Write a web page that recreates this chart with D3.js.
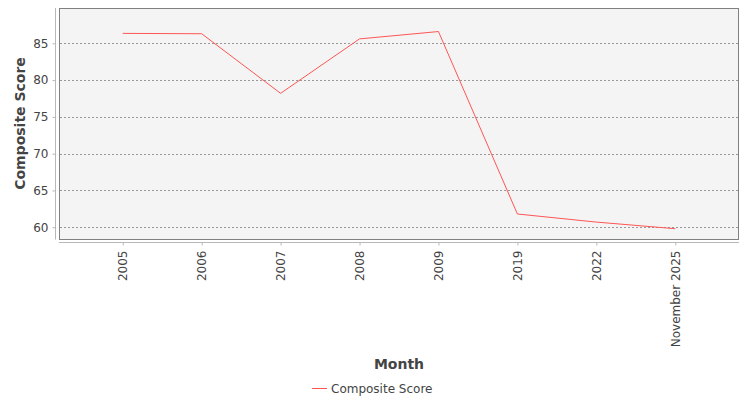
<!DOCTYPE html>
<html>
<head>
<meta charset="utf-8">
<script src="https://cdn.jsdelivr.net/npm/d3@7"></script>
<style>
  body { margin: 0; background: #fff; }
  svg { display: block; font-family: "DejaVu Sans", sans-serif; }
</style>
</head>
<body>
<svg id="chart" width="750" height="400"></svg>
<script>
const categories = ["2005", "2006", "2007", "2008", "2009", "2019", "2022", "November 2025"];
const scores = [86.35, 86.3, 78.2, 85.6, 86.6, 61.8, 60.7, 59.8];
const yTicks = [60, 65, 70, 75, 80, 85];
const seriesName = "Composite Score";
const xTitle = "Month";
const yTitle = "Composite Score";

const svg = d3.select("#chart");
const plot = { left: 59, top: 8, right: 739, bottom: 239 };
const textColor = "#444444";

// JFreeChart-like category positions: 5% lower/upper margin, 20% category gap
const W = plot.right - plot.left;
const n = categories.length;
const lowerM = 0.05 * W, catGap = 0.2 * W / (n - 1), catW = 0.7 * W / n;
const x = d3.scalePoint().domain(categories)
  .range([plot.left + lowerM + catW / 2, plot.right - lowerM - catW / 2]);
const y = d3.scaleLinear().domain([58.4, 89.8]).range([plot.bottom, plot.top]);

// plot background
svg.append("rect")
  .attr("x", plot.left + 0.5).attr("y", plot.top + 0.5)
  .attr("width", W - 1).attr("height", plot.bottom - plot.top)
  .attr("fill", "#f4f4f4");

// gridlines
svg.append("g").selectAll("line").data(yTicks).join("line")
  .attr("x1", plot.left + 1).attr("x2", plot.right)
  .attr("y1", d => Math.round(y(d)) + 0.5).attr("y2", d => Math.round(y(d)) + 0.5)
  .attr("stroke", "#5a5a5a").attr("stroke-width", 0.6)
  .attr("stroke-dasharray", "2,2");

// plot border
svg.append("rect")
  .attr("x", plot.left + 0.5).attr("y", plot.top + 0.5)
  .attr("width", W - 1).attr("height", plot.bottom - plot.top)
  .attr("fill", "none").attr("stroke", "#808080").attr("stroke-width", 1);

// Y axis
const yAxis = d3.axisLeft(y).tickValues(yTicks).tickSize(3).tickPadding(4).tickFormat(d3.format("d"));
const gy = svg.append("g").attr("transform", "translate(55.5,0)").call(yAxis);
gy.select(".domain").attr("d", `M0,${plot.top}V${plot.bottom + 0.5}`).attr("stroke", "#b8b8b8");
gy.selectAll(".tick line").attr("stroke", "#b8b8b8");
gy.selectAll(".tick text").attr("fill", textColor).attr("font-size", 12)
  .attr("font-family", "DejaVu Sans, sans-serif");

// X axis
const xAxis = d3.axisBottom(x).tickSize(3).tickPadding(4);
const gx = svg.append("g").attr("transform", "translate(0,242.5)").call(xAxis);
gx.select(".domain").attr("d", `M${plot.left},0H${plot.right}`).attr("stroke", "#b8b8b8");
gx.selectAll(".tick line").attr("stroke", "#b8b8b8");
gx.selectAll(".tick text")
  .attr("fill", textColor).attr("font-size", 12).attr("font-family", "DejaVu Sans, sans-serif")
  .attr("text-anchor", "end")
  .attr("transform", "rotate(-90)")
  .attr("x", -8).attr("y", 0).attr("dy", "0.35em");

// line
const line = d3.line().x((d, i) => x(categories[i])).y(d => y(d));
svg.append("path").datum(scores)
  .attr("d", line).attr("fill", "none")
  .attr("stroke", "#ff5555").attr("stroke-width", 1);

// axis titles
svg.append("text")
  .attr("transform", `translate(25,${(plot.top + plot.bottom) / 2}) rotate(-90)`)
  .attr("text-anchor", "middle").attr("font-size", 14).attr("font-weight", "bold")
  .attr("fill", textColor).text(yTitle);
svg.append("text")
  .attr("x", (plot.left + plot.right) / 2).attr("y", 369)
  .attr("text-anchor", "middle").attr("font-size", 14).attr("font-weight", "bold")
  .attr("fill", textColor).text(xTitle);

// legend
const lg = svg.append("g");
lg.append("line").attr("x1", 312).attr("x2", 327).attr("y1", 388.5).attr("y2", 388.5)
  .attr("stroke", "#ff5555").attr("stroke-width", 1);
lg.append("text").attr("x", 331).attr("y", 392.5).attr("font-size", 12)
  .attr("fill", textColor).text(seriesName);
</script>
</body>
</html>
